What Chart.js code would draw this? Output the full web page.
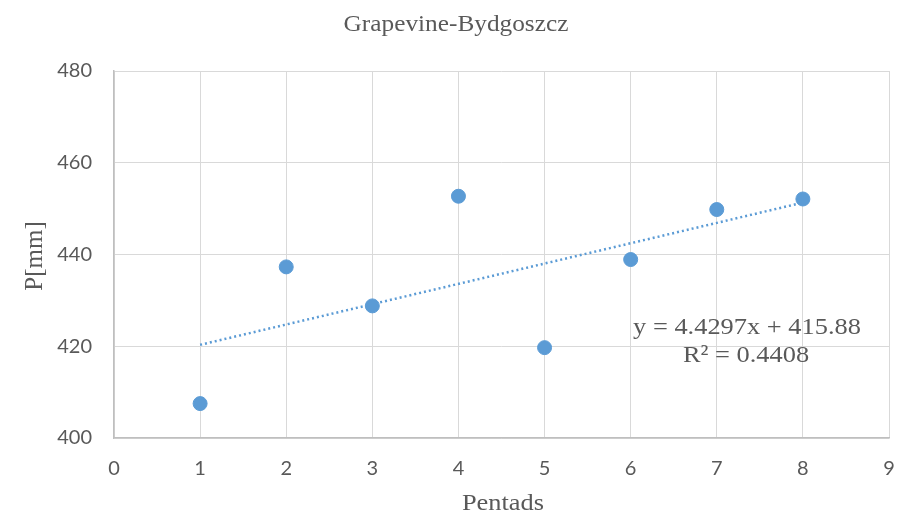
<!DOCTYPE html>
<html><head><meta charset="utf-8">
<script src="https://cdn.jsdelivr.net/npm/chart.js@4"></script>
<style>html,body{margin:0;padding:0;background:#fff;}#wrap{width:898px;height:518px;position:relative;}</style>
</head><body><div id="wrap"><canvas id="c" width="898" height="518"></canvas></div>
<script>
const pentads = [1, 2, 3, 4, 5, 6, 7, 8];
const precip = [407.5, 437.3, 428.8, 452.7, 419.7, 438.9, 449.8, 452.1];
const trendSlope = 4.4297;
const trendIntercept = 415.88;
const trendX = [1, 8];
const xTicks = [0, 1, 2, 3, 4, 5, 6, 7, 8, 9];
const yTicks = [400, 420, 440, 460, 480];
const titleText = "Grapevine-Bydgoszcz";
const xTitle = "Pentads";
const yTitle = "P[mm]";
const eqLines = ["y = 4.4297x + 415.88", "R\u00B2 = 0.4408"];

const blue = '#5b9bd5';
const serif = '"Liberation Serif", "DejaVu Serif", serif';

function stretchedText(ctx, text, x, y, font, sx) {
  ctx.save();
  ctx.font = font;
  ctx.translate(x, y);
  ctx.scale(sx, 1);
  ctx.fillText(text, 0, 0);
  ctx.restore();
}

const textPlugin = {
  id: 'texts',
  afterDraw(chart) {
    const ctx = chart.ctx;
    ctx.save();
    ctx.fillStyle = '#595959';
    ctx.textAlign = 'center';
    ctx.textBaseline = 'middle';
    stretchedText(ctx, titleText, 456, 25, '23px ' + serif, 1.1);
    stretchedText(ctx, xTitle, 503, 504, '24px ' + serif, 1.1);
    ctx.save();
    ctx.translate(35, 256);
    ctx.rotate(-Math.PI / 2);
    ctx.font = '25px ' + serif;
    ctx.fillText(yTitle, 0, 0);
    ctx.restore();
    stretchedText(ctx, eqLines[0], 747, 328, '24px ' + serif, 1.1);
    stretchedText(ctx, eqLines[1], 746, 356, '24px ' + serif, 1.1);
    ctx.restore();
  }
};

new Chart(document.getElementById('c'), {
  type: 'scatter',
  data: {
    datasets: [
      {
        data: pentads.map((x, i) => ({x, y: precip[i]})),
        backgroundColor: blue,
        borderColor: blue,
        pointRadius: 7,
        pointHoverRadius: 7,
        order: 1
      },
      {
        type: 'line',
        data: trendX.map(x => ({x, y: trendSlope * x + trendIntercept})),
        borderColor: blue,
        borderWidth: 2.5,
        borderDash: [2, 3],
        pointRadius: 0,
        fill: false,
        order: 2
      }
    ]
  },
  options: {
    responsive: false,
    animation: false,
    devicePixelRatio: 1,
    layout: { autoPadding: false, padding: { top: 71, right: 9, left: 0, bottom: 0 } },
    plugins: { legend: { display: false }, title: { display: false }, tooltip: { enabled: false } },
    scales: {
      x: {
        type: 'linear', min: 0, max: 9,
        afterBuildTicks: s => { s.ticks = xTicks.map(v => ({value: v})); },
        afterFit: s => { s.height = 80; s.paddingLeft = 0; s.paddingRight = 0; },
        grid: { color: '#d9d9d9', lineWidth: 1, drawTicks: false },
        border: { color: '#bfbfbf', width: 1.5 },
        ticks: { padding: 19, color: '#595959', font: { family: 'Lato, "Open Sans", sans-serif', size: 20 } }
      },
      y: {
        type: 'linear', min: 400, max: 480,
        afterBuildTicks: s => { s.ticks = yTicks.map(v => ({value: v})); },
        afterFit: s => { s.width = 114; s.paddingTop = 0; s.paddingBottom = 0; },
        grid: { color: '#d9d9d9', lineWidth: 1, drawTicks: false },
        border: { color: '#bfbfbf', width: 1.5 },
        ticks: { padding: 22, color: '#595959', font: { family: 'Lato, "Open Sans", sans-serif', size: 20 } }
      }
    }
  },
  plugins: [textPlugin]
});
</script></body></html>
